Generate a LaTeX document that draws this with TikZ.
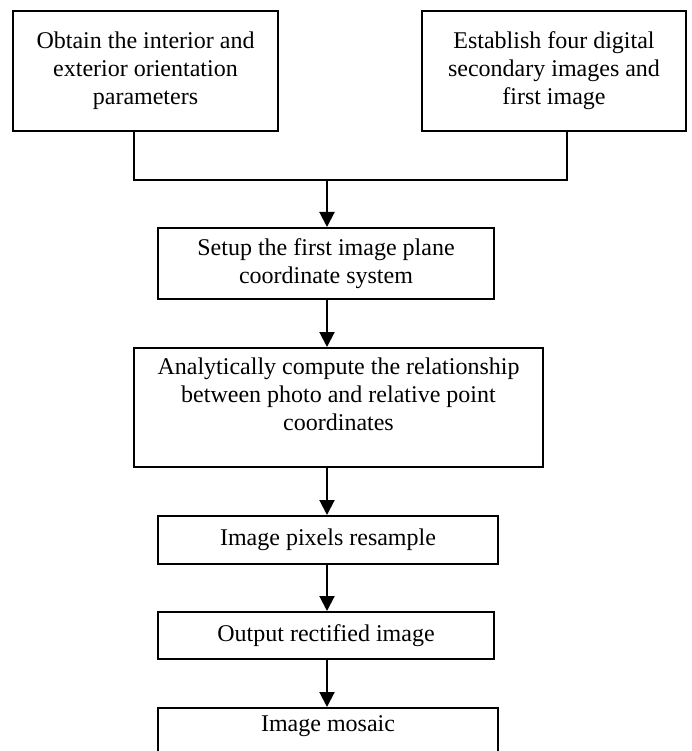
\documentclass[tikz,border=0pt]{standalone}
\usepackage{fontspec}
\setmainfont{Liberation Serif}
\usetikzlibrary{arrows.meta}

\begin{document}
\begin{tikzpicture}[x=1pt, y=-1pt, line width=2pt,
    every node/.style={font=\fontsize{24}{28}\selectfont},
    stepbox/.style={draw, align=center, inner sep=0pt},
    flow/.style={-{Triangle[length=15pt,width=15pt]}}]
    \clip (0,0) rectangle (692,751);

    % Dua masukan
    \node[stepbox, minimum width=265, minimum height=120] (orient) at (145.5,71)
        {Obtain the interior and\\exterior orientation\\parameters};
    \node[stepbox, minimum width=264, minimum height=120] (images) at (554,71)
        {Establish four digital\\secondary images and\\first image};

    % Gabungan
    \coordinate (join) at (327,180);
    \draw ([xshift=-11.5]orient.south) |- ([xshift=13]images.south |- join) -- ([xshift=13]images.south);

    % Langkah utama
    \node[stepbox, minimum width=336, minimum height=71] (plane) at (326,263.5)
        {Setup the first image plane\\coordinate system};
    \node[stepbox, minimum width=409, minimum height=119, text depth=26pt] (relate) at (338.5,407.5)
        {Analytically compute the relationship\\between photo and relative point\\coordinates};
    \node[stepbox, minimum width=340, minimum height=48] (resample) at (328,540)
        {Image pixels resample};
    \node[stepbox, minimum width=336, minimum height=47] (output) at (326,635.5)
        {Output rectified image};
    \node[stepbox, minimum width=340, minimum height=100, anchor=north, text depth=68pt] (mosaic) at (328,707)
        {Image mosaic};

    % Panah
    \draw[flow] (join) -- (join |- plane.north);
    \draw[flow] (join |- plane.south) -- (join |- relate.north);
    \draw[flow] (join |- relate.south) -- (join |- resample.north);
    \draw[flow] (join |- resample.south) -- (join |- output.north);
    \draw[flow] (join |- output.south) -- (join |- mosaic.north);
\end{tikzpicture}
\end{document}
